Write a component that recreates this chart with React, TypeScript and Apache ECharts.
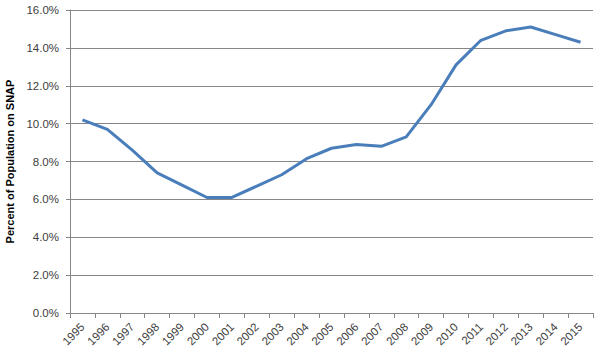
import React, { useEffect, useRef } from "react";
import * as echarts from "echarts";

const years = ["1995","1996","1997","1998","1999","2000","2001","2002","2003","2004","2005","2006","2007","2008","2009","2010","2011","2012","2013","2014","2015"];
const snapPercent = [10.2, 9.7, 8.6, 7.4, 6.75, 6.1, 6.1, 6.7, 7.3, 8.15, 8.7, 8.9, 8.8, 9.3, 11.0, 13.1, 14.4, 14.9, 15.1, 14.7, 14.3];
const yTicks = { min: 0, max: 16, interval: 2 };
const yAxisTitle = "Percent of Population on SNAP";

export default function App() {
  const ref = useRef<HTMLDivElement>(null);
  useEffect(() => {
    if (!ref.current) return;
    const chart = echarts.init(ref.current, null, { renderer: "svg" });
    const font = "'Liberation Sans', Arial, sans-serif";
    chart.setOption({
      animation: false,
      grid: { left: 70, right: 14, top: 10, bottom: 45, containLabel: false, outerBoundsMode: "none" },
      xAxis: {
        type: "category",
        data: years,
        boundaryGap: true,
        axisLine: { lineStyle: { color: "#868686", width: 1 } },
        axisTick: { show: true, alignWithLabel: false, length: 5, lineStyle: { color: "#868686" } },
        axisLabel: { rotate: 45, color: "#404040", fontSize: 11.5, fontFamily: font, margin: 12, interval: 0 },
      },
      yAxis: {
        type: "value",
        min: yTicks.min,
        max: yTicks.max,
        interval: yTicks.interval,
        name: yAxisTitle,
        nameLocation: "middle",
        nameGap: 46,
        nameTextStyle: { fontWeight: "bold", fontSize: 11, color: "#000", fontFamily: font },
        axisLine: { show: true, lineStyle: { color: "#868686", width: 1 } },
        axisTick: { show: true, length: 4, lineStyle: { color: "#868686" } },
        axisLabel: { color: "#404040", fontSize: 11.5, fontFamily: font, margin: 11, formatter: (v: number) => v.toFixed(1) + "%" },
        splitLine: { show: true, lineStyle: { color: "#868686", width: 1 } },
      },
      series: [
        {
          type: "line",
          data: snapPercent,
          symbol: "none",
          lineStyle: { color: "#4a7ebb", width: 3 },
        },
      ],
    });
    return () => chart.dispose();
  }, []);
  return <div ref={ref} style={{ width: 607, height: 358, position: "absolute", left: 0, top: 0 }} />;
}
